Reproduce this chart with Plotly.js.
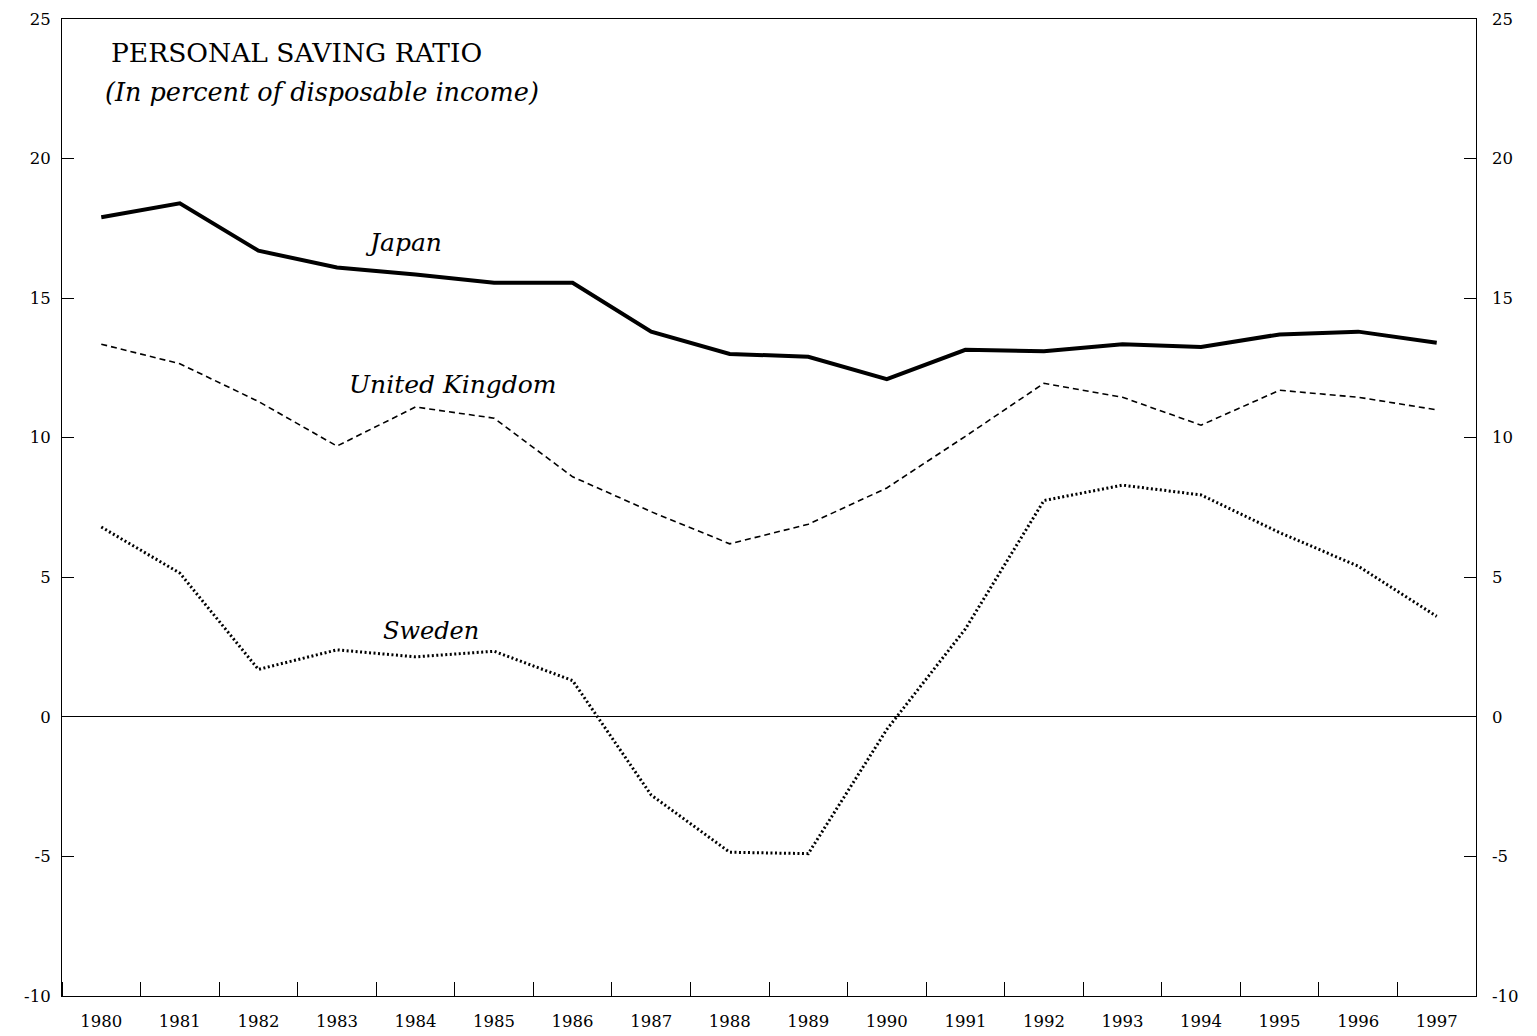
<!DOCTYPE html>
<html>
<head>
<meta charset="utf-8">
<script src="https://cdn.plot.ly/plotly-3.0.1.min.js"></script>
<style>html,body{margin:0;padding:0;background:#fff;}#chart{width:1537px;height:1036px;}</style>
</head>
<body>
<div id="chart"></div>
<script>
const years = [1980,1981,1982,1983,1984,1985,1986,1987,1988,1989,1990,1991,1992,1993,1994,1995,1996,1997];
const japan = [17.9,18.4,16.7,16.1,15.85,15.55,15.55,13.8,13.0,12.9,12.1,13.15,13.1,13.35,13.25,13.7,13.8,13.4];
const unitedKingdom = [13.35,12.65,11.3,9.7,11.1,10.7,8.6,7.35,6.2,6.9,8.2,10.05,11.95,11.45,10.45,11.7,11.45,11.0];
const sweden = [6.8,5.15,1.7,2.4,2.15,2.35,1.3,-2.8,-4.85,-4.9,-0.45,3.15,7.75,8.3,7.95,6.6,5.4,3.6];
const yTickValues = [-10,-5,0,5,10,15,20,25];
const yTickLabels = ["-10","-5","0","5","10","15","20","25"];
const xTickLabels = years.map(String);

const serif = "DejaVu Serif, Liberation Serif, serif";
const tickFont = {family: serif, size: 16.5, color: '#000'};

const traces = [
  {x: years, y: japan, type: 'scatter', mode: 'lines', name: 'Japan',
   line: {color: '#000', width: 4}},
  {x: years, y: unitedKingdom, type: 'scatter', mode: 'lines', name: 'United Kingdom',
   line: {color: '#000', width: 1.6, dash: '6px,4px'}},
  {x: years, y: sweden, type: 'scatter', mode: 'lines', name: 'Sweden',
   line: {color: '#000', width: 3, dash: '2px,2.5px'}},
  {x: [years[0]], y: [null], yaxis: 'y2', type: 'scatter', mode: 'lines', showlegend: false, hoverinfo: 'skip'}
];

const layout = {
  width: 1537, height: 1036,
  margin: {l: 62, r: 61, t: 19, b: 40},
  paper_bgcolor: '#fff', plot_bgcolor: '#fff',
  showlegend: false,
  xaxis: {
    range: [1979.5, 1997.5], tickvals: years, ticktext: xTickLabels,
    ticks: '', showgrid: false, zeroline: false,
    showline: true, linecolor: '#000', linewidth: 1, mirror: true,
    tickfont: tickFont, ticklabelstandoff: 10,
    minor: {tick0: 1980.5, dtick: 1, ticks: 'inside', ticklen: 14, tickcolor: '#000', tickwidth: 1, showgrid: false}
  },
  yaxis: {
    range: [-10, 25], tickvals: yTickValues, ticktext: yTickLabels,
    ticks: 'inside', ticklen: 12, tickcolor: '#000', tickwidth: 1,
    showgrid: false, zeroline: true, zerolinecolor: '#000', zerolinewidth: 1,
    showline: true, linecolor: '#000', linewidth: 1, mirror: true,
    tickfont: tickFont, ticklabelstandoff: 7
  },
  yaxis2: {
    range: [-10, 25], tickvals: yTickValues, ticktext: yTickLabels,
    overlaying: 'y', side: 'right',
    ticks: 'inside', ticklen: 12, tickcolor: '#000', tickwidth: 1,
    showgrid: false, zeroline: false, showline: false,
    tickfont: tickFont, ticklabelstandoff: 15
  },
  annotations: [
    {xref: 'paper', yref: 'paper', x: 0.033, y: 0.966, xanchor: 'left', yanchor: 'middle',
     text: 'PERSONAL SAVING RATIO', showarrow: false, font: {family: serif, size: 26.5, color: '#000'}},
    {xref: 'paper', yref: 'paper', x: 0.029, y: 0.925, xanchor: 'left', yanchor: 'middle',
     text: '<i>(In percent of disposable income)</i>', showarrow: false, font: {family: serif, size: 25.5, color: '#000'}},
    {x: 1983.85, y: 17.0, text: '<i>Japan</i>', showarrow: false, font: {family: serif, size: 25, color: '#000'}},
    {x: 1984.48, y: 11.9, text: '<i>United Kingdom</i>', showarrow: false, font: {family: serif, size: 25, color: '#000'}},
    {x: 1984.2, y: 3.08, text: '<i>Sweden</i>', showarrow: false, font: {family: serif, size: 24, color: '#000'}}
  ]
};

Plotly.newPlot('chart', traces, layout, {displayModeBar: false, staticPlot: true});
</script>
</body>
</html>
